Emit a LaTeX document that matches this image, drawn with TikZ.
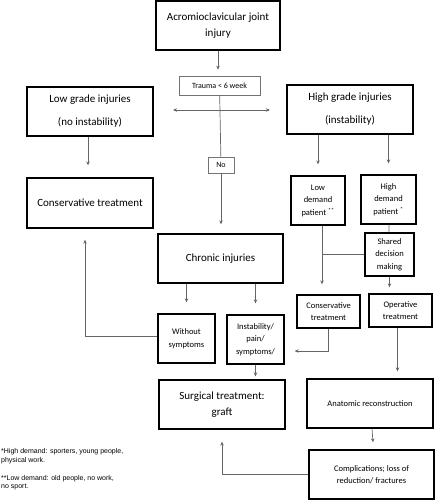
\documentclass[tikz,border=0pt]{standalone}
\usepackage{fontspec}
\setmainfont{Carlito}
\newfontfamily\notefont{Liberation Sans}
\usetikzlibrary{arrows.meta}

\begin{document}
\begin{tikzpicture}[x=1pt, y=-1pt,
		wh/.style 2 args={minimum width=#1pt, minimum height=#2pt},
		box/.style={draw, line width=1.3pt, align=center, inner sep=1pt, font=\fontsize{11}{16}\selectfont},
		sbox/.style={box, font=\fontsize{8.5}{12.5}\selectfont},
		tbox/.style={draw=black!55, line width=.6pt, align=center, inner sep=1pt, font=\fontsize{8}{10}\selectfont},
		note/.style={font=\notefont\fontsize{7}{8.5}\selectfont, align=left, anchor=west, inner sep=0pt},
		line/.style={draw=black!60, line width=.7pt},
		arr/.style={line, -{Stealth[length=4pt, width=3.5pt]}}]
	\useasboundingbox (0,0) rectangle (435,500);
	% top of the chart
	\node[box, wh={124}{49}] (acj) at (218,25.5) {Acromioclavicular joint\\injury};
	\node[tbox, wh={81}{19}] (trauma) at (219.5,85.5) {Trauma < 6 week};
	\node[tbox, wh={26}{16}] (no) at (221,165) {No};
	\node[box, wh={126}{49}] (low) at (90,111.5) {Low grade injuries\\[7pt](no instability)};
	\node[box, wh={126}{49}] (high) at (350,109.5) {High grade injuries\\[7pt](instability)};
	\coordinate (hl) at (173,110);
	\coordinate (hr) at (270,110);
	% middle
	\node[box, wh={126}{50}] (cons1) at (90,203) {Conservative treatment};
	\node[sbox, wh={54}{49}] (lowd) at (318,200.5) {Low\\demand\\patient \textsuperscript{**}};
	\node[sbox, wh={55}{49}] (highd) at (388.5,199.5) {High\\demand\\patient \textsuperscript{*}};
	\node[sbox, wh={49}{43}] (shared) at (389.5,254.5) {Shared\\decision\\making};
	\node[box, wh={125}{49}] (chronic) at (220.5,258.5) {Chronic injuries};
	\node[sbox, wh={63}{33}] (cons2) at (328.5,311.5) {Conservative\\treatment};
	\node[sbox, wh={63}{33}] (oper) at (400.5,310.5) {Operative\\treatment};
	\node[sbox, wh={57}{49}] (without) at (186.5,338.5) {Without\\symptoms};
	\node[sbox, wh={57}{49}] (instab) at (255.5,339.5) {Instability/\\pain/\\symptoms/};
	% bottom
	\node[box, wh={126}{49}] (surg) at (222,404.5) {Surgical treatment:\\graft};
	\node[sbox, wh={126}{49}] (anat) at (370,403.5) {Anatomic reconstruction};
	\node[sbox, wh={125}{49}] (compl) at (371.5,474.5) {Complications; loss of\\reduction/ fractures};
	\node[note] (note1) at (1,456) {*High demand: sporters, young people,\\physical work.};
	\node[note] (note2) at (1,482.5) {**Low demand: old people, no work,\\no sport.};
	% connectors
	\draw[arr, shorten >=6pt] (acj) -- (acj.south |- trauma.north);
	\draw[line] (trauma) -- (no);
	\draw[{Stealth[length=4pt, width=3.5pt]}-{Stealth[length=4pt, width=3.5pt]}, line] (hl) -- (hr);
	\draw[arr, shorten >=9pt] (no) -- (no.south |- chronic.north);
	\draw[arr, shorten >=12pt] ([xshift=-2pt]low.south) -- ([xshift=-2pt]cons1.north);
	\draw[arr, shorten >=11pt] (high.south -| lowd.north) -- (lowd.north);
	\draw[arr, shorten >=11pt] (high.south -| highd.north) -- (highd.north);
	\draw[line] (highd) -- (shared);
	\draw[arr, shorten >=10pt] ([xshift=4pt]lowd.south) -- ([xshift=4pt]lowd.south |- cons2.north);
	\draw[line] (shared.west) -- ([xshift=4pt]shared.west -| lowd.south);
	\draw[arr, shorten >=6pt] (shared) -- (shared.south |- oper.north);
	\draw[arr, shorten >=11pt] (chronic.south -| without.north) -- (without.north);
	\draw[arr, shorten >=11pt] (chronic.south -| instab.north) -- (instab.north);
	\draw[arr, shorten >=11pt] (without.west |- 0,336) -| ([xshift=-5pt]cons1.south);
	\draw[arr, shorten >=10pt] (cons2.south) |- ([yshift=-11.5pt]instab.east);
	\draw[arr, shorten >=3pt] (instab) -- (instab.south |- surg.north);
	\draw[arr, shorten >=7pt] ([xshift=-3pt]oper.south) -- ([xshift=-3pt]oper.south |- anat.north);
	\draw[arr, shorten >=7pt] ([xshift=2pt]anat.south) -- ([xshift=2pt]compl.north);
	\draw[arr, shorten >=12pt] (compl.west) -| (surg.south);
\end{tikzpicture}
\end{document}
